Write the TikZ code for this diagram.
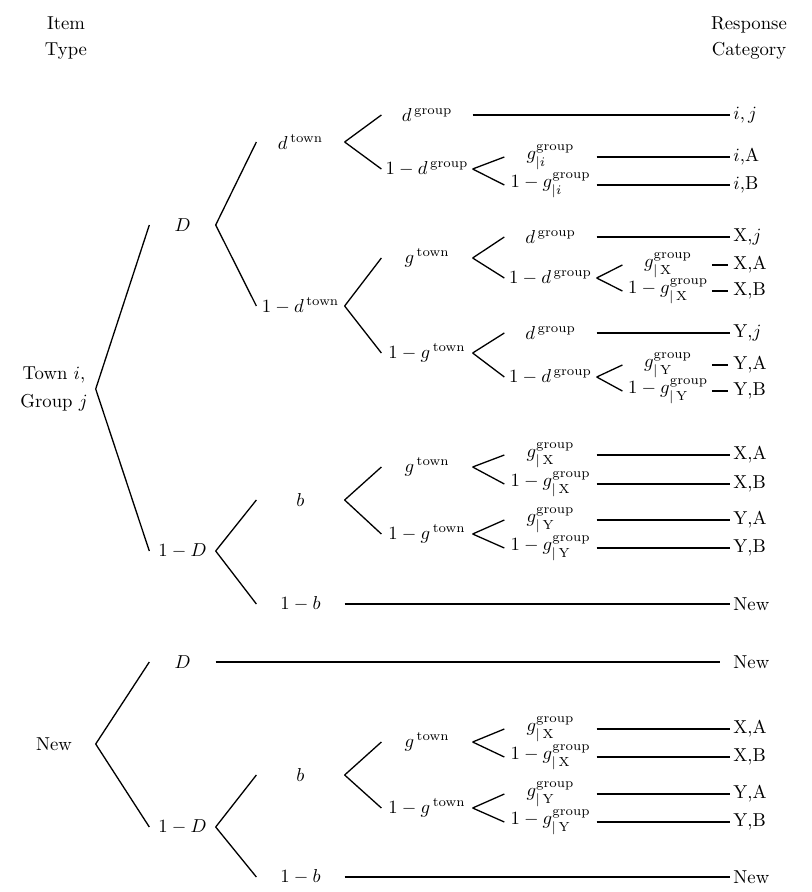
\documentclass[tikz,border=0pt]{standalone}
\usepackage{amsmath}
\begin{document}
\begin{tikzpicture}[x=0.5348pt,y=-0.5348pt,line width=0.7pt,
  tn/.style={inner xsep=1pt,inner ysep=2pt,anchor=center},
  l0/.style={tn,minimum width=43.9pt,align=center},
  l1/.style={tn,minimum width=34.8pt},
  l2/.style={tn,minimum width=46.5pt},
  l3/.style={tn,minimum width=48.1pt},
  l4/.style={tn,minimum width=48.7pt},
  l5/.style={tn,minimum width=48.1pt},
  resp/.style={anchor=west,inner xsep=1.5pt,inner ysep=2pt},
  hdr/.style={align=center,inner sep=0pt},
  shortleaf/.style={shorten <=-1pt,shorten >=1.2pt}]
\useasboundingbox (0,0) rectangle (811,892);
% headers
\node[hdr] (hItem) at (66,38) {Item\\[2pt]Type};
\node[hdr] (hResp) at (749,38) {Response\\[2pt]Category};
% ---------- root 1
\node[l0] (r1) at (54,389) {Town $i$,\\[3pt]Group $j$};
\node[l1] (D1) at (182.5,225) {$D$};
\node[l2] (dt1) at (300.5,142) {$d^{\,\text{town}}$};
\node[l3] (dg1) at (427,115) {$d^{\,\text{group}}$};
\node[resp] (Rij) at (730,115) {$i,j$};
\node[l3] (odg1) at (427,169) {$1-d^{\,\text{group}}$};
\node[l4] (gi1) at (550.5,157) {$g_{|i}^{\text{group}}$};
\node[resp] (RiA) at (730,157) {$i$,A};
\node[l4] (ogi1) at (550.5,185) {$1-g_{|i}^{\text{group}}$};
\node[resp] (RiB) at (730,185) {$i$,B};
\node[l2] (odt1) at (300.5,306) {$1-d^{\,\text{town}}$};
\node[l3] (gt1) at (427,258) {$g^{\,\text{town}}$};
\node[l4] (dg2) at (550.5,237) {$d^{\,\text{group}}$};
\node[resp] (RXj) at (730,237) {X,$j$};
\node[l4] (odg2) at (550.5,278) {$1-d^{\,\text{group}}$};
\node[l5] (gX2) at (668,265) {$g_{|\,\mathrm{X}}^{\text{group}}$};
\node[resp] (RXA2) at (730,265) {X,A};
\node[l5] (ogX2) at (668,291) {$1-g_{|\,\mathrm{X}}^{\text{group}}$};
\node[resp] (RXB2) at (730,291) {X,B};
\node[l3] (ogt1) at (427,353) {$1-g^{\,\text{town}}$};
\node[l4] (dg3) at (550.5,333) {$d^{\,\text{group}}$};
\node[resp] (RYj) at (730,333) {Y,$j$};
\node[l4] (odg3) at (550.5,377) {$1-d^{\,\text{group}}$};
\node[l5] (gY3) at (668,365) {$g_{|\,\mathrm{Y}}^{\text{group}}$};
\node[resp] (RYA3) at (730,365) {Y,A};
\node[l5] (ogY3) at (668,391) {$1-g_{|\,\mathrm{Y}}^{\text{group}}$};
\node[resp] (RYB3) at (730,391) {Y,B};
\node[l1] (oD1) at (182.5,551) {$1-D$};
\node[l2] (b1) at (300.5,500) {$b$};
\node[l3] (gt3) at (427,467) {$g^{\,\text{town}}$};
\node[l4] (gX3) at (550.5,455) {$g_{|\,\mathrm{X}}^{\text{group}}$};
\node[resp] (RXA3) at (730,455) {X,A};
\node[l4] (ogX3) at (550.5,484) {$1-g_{|\,\mathrm{X}}^{\text{group}}$};
\node[resp] (RXB3) at (730,484) {X,B};
\node[l3] (ogt3) at (427,534) {$1-g^{\,\text{town}}$};
\node[l4] (gY4) at (550.5,520) {$g_{|\,\mathrm{Y}}^{\text{group}}$};
\node[resp] (RYA4) at (730,520) {Y,A};
\node[l4] (ogY4) at (550.5,548) {$1-g_{|\,\mathrm{Y}}^{\text{group}}$};
\node[resp] (RYB4) at (730,548) {Y,B};
\node[l2] (ob1) at (300.5,604) {$1-b$};
\node[resp] (RN1) at (730,604) {New};
% ---------- root 2
\node[l0] (r2) at (54,744) {New};
\node[l1] (D2) at (182.5,662) {$D$};
\node[resp] (RN2) at (730,662) {New};
\node[l1] (oD2) at (182.5,827) {$1-D$};
\node[l2] (b2) at (300.5,775) {$b$};
\node[l3] (gt5) at (427,742) {$g^{\,\text{town}}$};
\node[l4] (gX5) at (550.5,729) {$g_{|\,\mathrm{X}}^{\text{group}}$};
\node[resp] (RXA5) at (730,729) {X,A};
\node[l4] (ogX5) at (550.5,757) {$1-g_{|\,\mathrm{X}}^{\text{group}}$};
\node[resp] (RXB5) at (730,757) {X,B};
\node[l3] (ogt5) at (427,808) {$1-g^{\,\text{town}}$};
\node[l4] (gY5) at (550.5,794) {$g_{|\,\mathrm{Y}}^{\text{group}}$};
\node[resp] (RYA5) at (730,794) {Y,A};
\node[l4] (ogY5) at (550.5,822) {$1-g_{|\,\mathrm{Y}}^{\text{group}}$};
\node[resp] (RYB5) at (730,822) {Y,B};
\node[l2] (ob2) at (300.5,877) {$1-b$};
\node[resp] (RN3) at (730,877) {New};
% ---------- connectors
\foreach \p/\c in {r1/D1,r1/oD1,D1/dt1,D1/odt1,dt1/dg1,dt1/odg1,dg1/Rij,
  odg1/gi1,odg1/ogi1,gi1/RiA,ogi1/RiB,
  odt1/gt1,odt1/ogt1,gt1/dg2,gt1/odg2,dg2/RXj,odg2/gX2,odg2/ogX2,
  ogt1/dg3,ogt1/odg3,dg3/RYj,odg3/gY3,odg3/ogY3,
  oD1/b1,oD1/ob1,b1/gt3,b1/ogt3,gt3/gX3,gt3/ogX3,gX3/RXA3,ogX3/RXB3,
  ogt3/gY4,ogt3/ogY4,gY4/RYA4,ogY4/RYB4,ob1/RN1,
  r2/D2,r2/oD2,oD2/b2,oD2/ob2,b2/gt5,b2/ogt5,gt5/gX5,gt5/ogX5,gX5/RXA5,ogX5/RXB5,
  ogt5/gY5,ogt5/ogY5,gY5/RYA5,ogY5/RYB5,ob2/RN3}
  \draw (\p.east) -- (\c.west);
\foreach \p/\c in {gX2/RXA2,ogX2/RXB2,gY3/RYA3,ogY3/RYB3}
  \draw[shortleaf] (\p.east) -- (\c.west);
\draw[shorten >=5.3pt] (D2.east) -- (RN2.west);
\end{tikzpicture}
\end{document}
